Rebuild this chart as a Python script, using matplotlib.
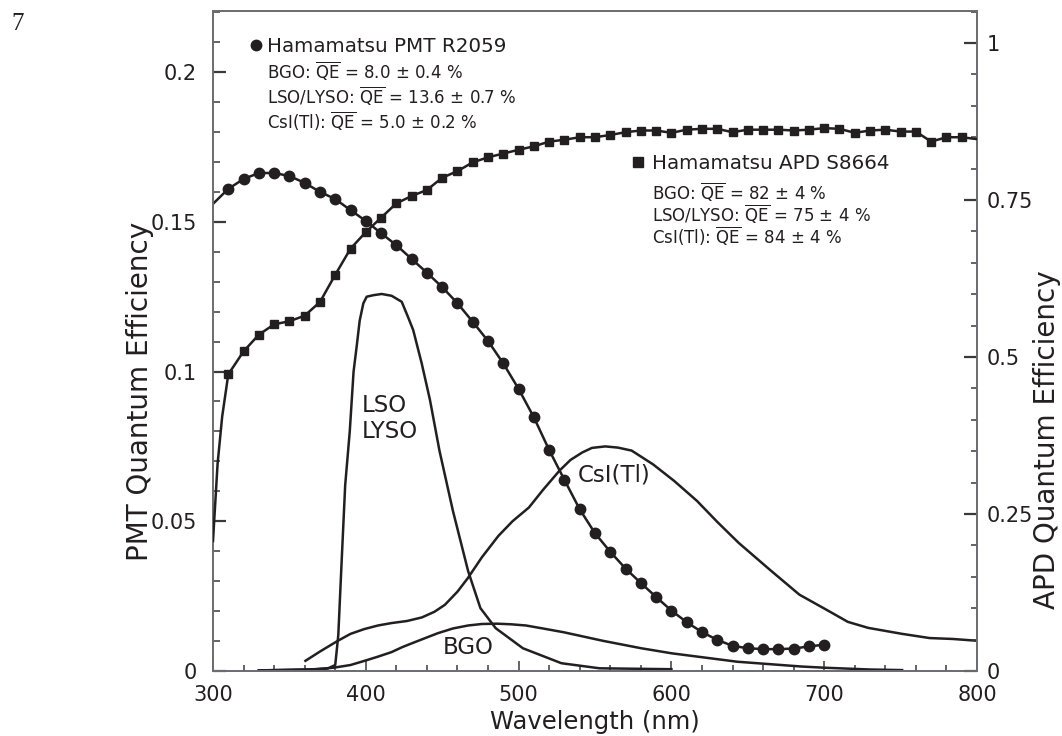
import matplotlib
matplotlib.use("Agg")
import matplotlib.pyplot as plt
from matplotlib.lines import Line2D
from matplotlib.ticker import MultipleLocator, FuncFormatter

# ---------------- data ----------------
# Hamamatsu PMT R2059 quantum efficiency (left axis); first point has no marker
pmt_wl = [300, 310, 320, 330, 340, 350, 360, 370, 380, 390, 400, 410, 420, 430,
          440, 450, 460, 470, 480, 490, 500, 510, 520, 530, 540, 550, 560, 570,
          580, 590, 600, 610, 620, 630, 640, 650, 660, 670, 680, 690, 700]
pmt_qe = [0.156, 0.161, 0.1643, 0.1663, 0.1663, 0.1653, 0.163, 0.160, 0.1576,
          0.1539, 0.1503, 0.1462, 0.1422, 0.1376, 0.1330, 0.1282, 0.1228, 0.1166,
          0.1102, 0.1027, 0.0942, 0.0847, 0.0738, 0.0638, 0.054, 0.046, 0.0398,
          0.0342, 0.0294, 0.0247, 0.0202, 0.0163, 0.013, 0.0104, 0.0084, 0.0076,
          0.0073, 0.0073, 0.0075, 0.0082, 0.0088]

# Hamamatsu APD S8664 quantum efficiency (right axis); first 3 and last point unmarked
apd_wl = [300, 303, 306, 310, 320, 330, 340, 350, 360, 370, 380, 390, 400, 410,
          420, 430, 440, 450, 460, 470, 480, 490, 500, 510, 520, 530, 540, 550,
          560, 570, 580, 590, 600, 610, 620, 630, 640, 650, 660, 670, 680, 690,
          700, 710, 720, 730, 740, 750, 760, 770, 780, 790, 800]
apd_qe = [0.207, 0.33, 0.405, 0.4724, 0.509, 0.5356, 0.552, 0.557, 0.5658, 0.5876,
          0.631, 0.6725, 0.699, 0.7218, 0.7447, 0.7564, 0.766, 0.7855, 0.796, 0.81,
          0.818, 0.824, 0.830, 0.8355, 0.843, 0.846, 0.850, 0.850, 0.8536, 0.858,
          0.8607, 0.8607, 0.857, 0.862, 0.8634, 0.8634, 0.858, 0.862, 0.862, 0.862,
          0.8607, 0.862, 0.8645, 0.8634, 0.857, 0.8607, 0.862, 0.859, 0.859, 0.843,
          0.850, 0.850, 0.847]

# Emission spectra (arbitrary units, drawn on left axis)
lso_wl = [330, 360, 375, 380, 382, 384, 386.5, 389.5, 392, 394, 396, 398.4, 400.6,
          405, 410.4, 416.9, 423.5, 427, 431, 436.6, 442, 448.2, 457, 467, 475,
          485, 502.8, 528, 553, 600]
lso_em = [0.0002, 0.0004, 0.0008, 0.002, 0.012, 0.0345, 0.062, 0.080, 0.100,
          0.1083, 0.117, 0.1228, 0.125, 0.1255, 0.1259, 0.1253, 0.1233, 0.119,
          0.1139, 0.1027, 0.0905, 0.0736, 0.0535, 0.0333, 0.021, 0.0143, 0.0076,
          0.0026, 0.0009, 0.0006]

bgo_wl = [330, 366.6, 379, 390, 399.2, 408, 416.8, 424, 431.9, 447, 457, 467, 476,
          485.9, 495, 504.8, 517, 529.9, 555, 580.2, 600.3, 643, 685, 700, 730, 751]
bgo_em = [0.0002, 0.0006, 0.0011, 0.002, 0.0034, 0.0048, 0.0063, 0.008, 0.0096,
          0.0126, 0.0142, 0.0152, 0.0157, 0.0158, 0.0156, 0.0152, 0.0141, 0.0129,
          0.0101, 0.0076, 0.0059, 0.0031, 0.0015, 0.0011, 0.0005, 0.0003]

csi_wl = [360.5, 370, 381.75, 390, 399, 408, 416.75, 427, 436.75, 445, 451.75, 460,
          466.75, 476, 486.75, 496, 506.75, 516, 526.75, 534, 541.75, 548, 556.75,
          565, 574, 588, 601.75, 616.75, 630, 644, 664, 683.75, 702, 715.5, 728.8,
          751, 769, 784, 800]
csi_em = [0.0034, 0.0065, 0.0101, 0.0124, 0.014, 0.0152, 0.016, 0.0167, 0.0179,
          0.0198, 0.0221, 0.0265, 0.031, 0.038, 0.0451, 0.050, 0.0546, 0.0605,
          0.0669, 0.0705, 0.073, 0.0745, 0.075, 0.0746, 0.0736, 0.069, 0.0635,
          0.0568, 0.0498, 0.0428, 0.034, 0.0255, 0.0203, 0.0164, 0.0144, 0.0124,
          0.011, 0.0107, 0.0101]

pmt_title = "Hamamatsu PMT R2059"
pmt_lines = [r"BGO: $\overline{\mathrm{QE}}$ = 8.0 ± 0.4 %",
             r"LSO/LYSO: $\overline{\mathrm{QE}}$ = 13.6 ± 0.7 %",
             r"CsI(Tl): $\overline{\mathrm{QE}}$ = 5.0 ± 0.2 %"]
apd_title = "Hamamatsu APD S8664"
apd_lines = [r"BGO: $\overline{\mathrm{QE}}$ = 82 ± 4 %",
             r"LSO/LYSO: $\overline{\mathrm{QE}}$ = 75 ± 4 %",
             r"CsI(Tl): $\overline{\mathrm{QE}}$ = 84 ± 4 %"]

# ---------------- style ----------------
INK = "#231f20"
FRAME = "#6d6e71"
W, H = 1062, 736
plt.rcParams["font.family"] = ["DejaVu Sans"]
plt.rcParams["mathtext.fontset"] = "dejavusans"

fig = plt.figure(figsize=(W / 100, H / 100), dpi=100)
L, R, T, B = 213, 977, 11, 671
ax = fig.add_axes([L / W, 1 - B / H, (R - L) / W, (B - T) / H])
ax2 = ax.twinx()


def fx(x):
    return x / W


def fy(y):
    return 1 - y / H


ax.set_xlim(300, 800)
ax.set_ylim(0, 0.2204)
ax2.set_ylim(0, 1.051)

lw = 1.8
ax.plot(pmt_wl, pmt_qe, color=INK, lw=lw, marker="o", ms=7.5,
        markevery=list(range(1, len(pmt_wl))), zorder=5)
ax.plot(lso_wl, lso_em, color=INK, lw=lw, solid_joinstyle="round")
ax.plot(bgo_wl, bgo_em, color=INK, lw=lw, solid_joinstyle="round")
ax.plot(csi_wl, csi_em, color=INK, lw=lw, solid_joinstyle="round")
ax2.plot(apd_wl, apd_qe, color=INK, lw=lw, marker="s", ms=6,
         markevery=list(range(3, len(apd_wl) - 1)), zorder=5)

# ticks
fmt = FuncFormatter(lambda v, p: "%g" % round(v, 4))
ax.xaxis.set_major_locator(MultipleLocator(100))
ax.xaxis.set_minor_locator(MultipleLocator(20))
ax.yaxis.set_major_locator(MultipleLocator(0.05))
ax.yaxis.set_minor_locator(MultipleLocator(0.01))
ax.yaxis.set_major_formatter(fmt)
ax2.yaxis.set_major_locator(MultipleLocator(0.25))
ax2.yaxis.set_minor_locator(MultipleLocator(0.05))
ax2.yaxis.set_major_formatter(fmt)

tc = "#3a3a3a"
ax.tick_params(axis="x", which="both", direction="in", top=False, colors=tc,
               labelcolor=INK, labelsize=15, pad=10, width=1.1)
ax.tick_params(axis="x", which="major", length=7.5)
ax.tick_params(axis="x", which="minor", length=4.5)
ax.tick_params(axis="y", which="both", direction="in", right=False, colors=tc,
               labelcolor=INK, labelsize=15, pad=11.5, width=1.1)
ax.tick_params(axis="y", which="major", length=9.5)
ax.tick_params(axis="y", which="minor", length=5)
ax2.tick_params(axis="y", which="both", direction="in", left=False, colors=tc,
                labelcolor=INK, labelsize=15, pad=7, width=1.1)
ax2.tick_params(axis="y", which="major", length=9.5)
ax2.tick_params(axis="y", which="minor", length=4.5)
ax.tick_params(axis="y", which="major", width=1.6)
ax2.tick_params(axis="y", which="major", width=1.6)

for a in (ax, ax2):
    for s in a.spines.values():
        s.set_color(FRAME)
        s.set_linewidth(1.3)

# axis labels
ax.set_xlabel("Wavelength (nm)", fontsize=17.5, color=INK, va="baseline")
ax.xaxis.set_label_coords(0.5, (B - 729) / (B - T))
ax.set_ylabel("PMT Quantum Efficiency", fontsize=20, color=INK, va="center")
ax.yaxis.set_label_coords((140 - L) / (R - L), (B - 391) / (B - T))
ax2.set_ylabel("APD Quantum Efficiency", fontsize=20, color=INK, va="center",
               rotation=90)
ax2.yaxis.set_label_coords((1047 - L) / (R - L), (B - 440) / (B - T))

# page number
fig.text(fx(11), fy(30), "7", fontsize=18, family=["Liberation Serif"],
         color=INK, ha="left", va="baseline")

# legend blocks
fig.add_artist(Line2D([fx(256)], [fy(45)], marker="o", ms=7.5, color=INK,
                      transform=fig.transFigure))
fig.text(fx(267), fy(52), pmt_title, fontsize=14.3, color=INK, va="baseline")
for i, t in enumerate(pmt_lines):
    fig.text(fx(267), fy(78 + 25.5 * i), t, fontsize=12, color=INK, va="baseline")

fig.add_artist(Line2D([fx(638)], [fy(162)], marker="s", ms=6.5, color=INK,
                      transform=fig.transFigure))
fig.text(fx(652), fy(169.3), apd_title, fontsize=14.3, color=INK, va="baseline")
for i, t in enumerate(apd_lines):
    fig.text(fx(652), fy(199 + 22.5 * i), t, fontsize=12, color=INK, va="baseline")

# curve labels
fig.text(fx(362), fy(412), "LSO", fontsize=16.5, color=INK, va="baseline")
fig.text(fx(362), fy(438), "LYSO", fontsize=16.5, color=INK, va="baseline")
fig.text(fx(578), fy(482), "CsI(Tl)", fontsize=16.5, color=INK, va="baseline")
fig.text(fx(443), fy(654), "BGO", fontsize=16.5, color=INK, va="baseline")

fig.savefig("out.png", dpi=100)
